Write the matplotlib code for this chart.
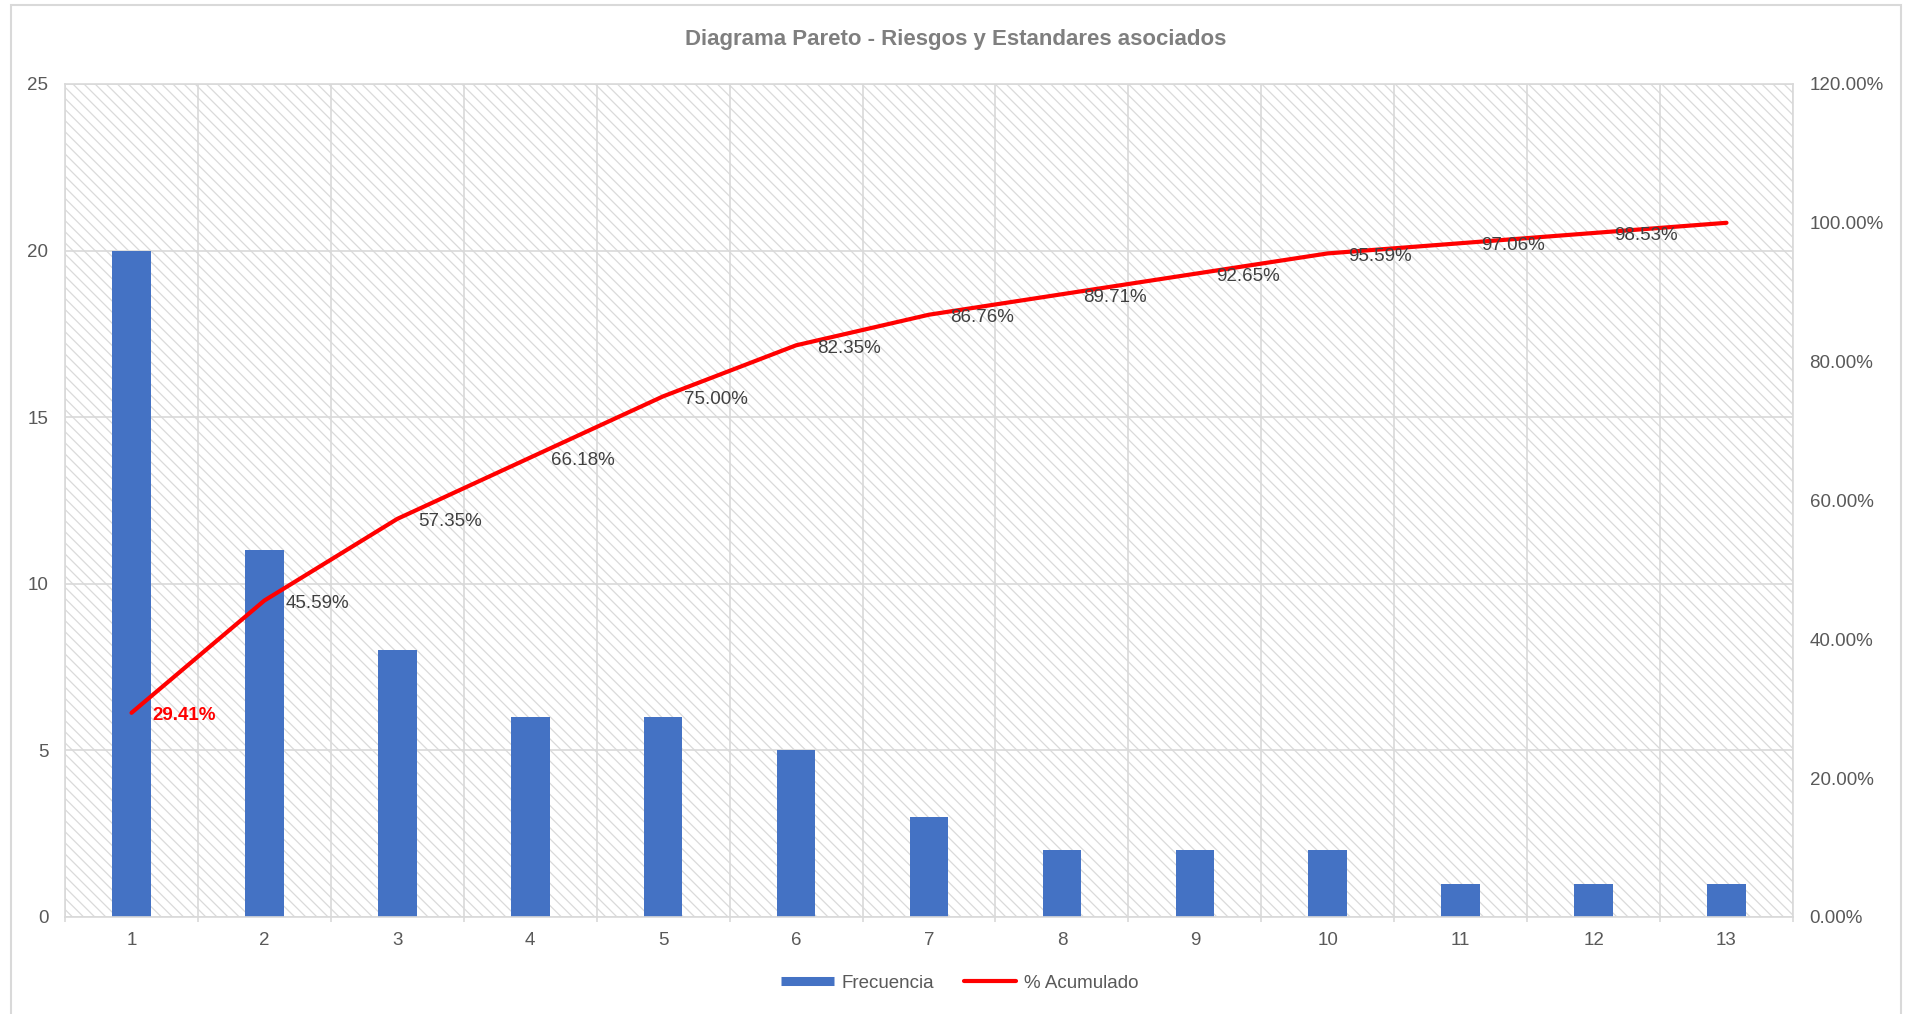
import matplotlib
matplotlib.use('Agg')
import matplotlib.pyplot as plt
from matplotlib.patches import Rectangle
from matplotlib.lines import Line2D
from matplotlib.ticker import MultipleLocator, FixedLocator, FuncFormatter

plt.rcParams['font.family'] = ['Liberation Sans', 'DejaVu Sans']
plt.rcParams['hatch.linewidth'] = 0.9

# datos del diagrama
riesgos = list(range(1, 14))
frecuencia = [20, 11, 8, 6, 6, 5, 3, 2, 2, 2, 1, 1, 1]
acumulado = [29.41, 45.59, 57.35, 66.18, 75.00, 82.35, 86.76, 89.71,
             92.65, 95.59, 97.06, 98.53, 100.00]

gris_claro = '#d9d9d9'
gris_texto = '#595959'

fig = plt.figure(figsize=(19.08, 10.14), dpi=100)
ax = fig.add_axes([0.0341, 0.0957, 0.9056, 0.8215])
ax2 = ax.twinx()

# fondo rayado del area de trazado
fondo = Rectangle((0, 0), 1, 1, transform=ax.transAxes, facecolor='white',
                  edgecolor='#dadada', lw=0, hatch='\\\\\\', zorder=0)
ax.add_patch(fondo)
ax.set_axisbelow(True)

ax.bar(riesgos, frecuencia, width=0.29, color='#4472c4', zorder=2)
ax2.plot(riesgos, acumulado, color='red', lw=3, solid_capstyle='round',
         solid_joinstyle='round', zorder=3)

ax.set_xlim(0.5, 13.5)
ax.set_ylim(0, 25)
ax2.set_ylim(0, 120)

ax.yaxis.set_major_locator(MultipleLocator(5))
ax2.yaxis.set_major_locator(MultipleLocator(20))
ax2.yaxis.set_major_formatter(FuncFormatter(lambda v, p: f'{v:.2f}%'))
ax.set_xticks(riesgos)
ax.xaxis.set_minor_locator(FixedLocator([i + 0.5 for i in range(0, 14)]))

ax.grid(True, axis='y', color=gris_claro, lw=1.2)
ax.grid(True, axis='x', which='minor', color=gris_claro, lw=1.2)

for s in ax.spines.values():
    s.set_color(gris_claro)
    s.set_linewidth(1.2)
for s in ax2.spines.values():
    s.set_visible(False)

ax.tick_params(axis='y', length=0, pad=12, labelsize=13.5, labelcolor=gris_texto)
ax2.tick_params(axis='y', length=0, pad=12, labelsize=13.5, labelcolor=gris_texto)
ax.tick_params(axis='x', which='major', length=0, pad=11, labelsize=13.5,
               labelcolor=gris_texto)
ax.tick_params(axis='x', which='minor', length=3.6, width=1.2, color=gris_claro)

# etiquetas del porcentaje acumulado
for i, (x, v) in enumerate(zip(riesgos[:-1], acumulado[:-1])):
    if i == 0:
        ax2.annotate(f'{v:.2f}%', (x, v), xytext=(15, -2), textcoords='offset points',
                     ha='left', va='center', fontsize=13.5, color='red',
                     fontweight='bold', zorder=4)
    else:
        ax2.annotate(f'{v:.2f}%', (x, v), xytext=(15, -2), textcoords='offset points',
                     ha='left', va='center', fontsize=13.5, color='#404040', zorder=4)

fig.text(0.501, 0.9606, 'Diagrama Pareto - Riesgos y Estandares asociados',
         ha='center', va='center', fontsize=16, fontweight='bold', color='#7f7f7f')

handles = [Line2D([], [], color='#4472c4', lw=6.5, solid_capstyle='butt'),
           Line2D([], [], color='red', lw=3, solid_capstyle='round')]
fig.legend(handles, ['Frecuencia', '% Acumulado'], loc='center',
           bbox_to_anchor=(0.503, 0.0306), ncol=2, frameon=False, fontsize=13.5,
           handlelength=2.8, handletextpad=0.4, columnspacing=1.6,
           labelcolor=gris_texto)

# borde del grafico
fig.add_artist(Rectangle((11.5 / 1908, -0.01), (1901 - 11.5) / 1908, 1.005,
                         transform=fig.transFigure, fill=False,
                         edgecolor=gris_claro, lw=1.5))

fig.savefig('out.png', dpi=100)
